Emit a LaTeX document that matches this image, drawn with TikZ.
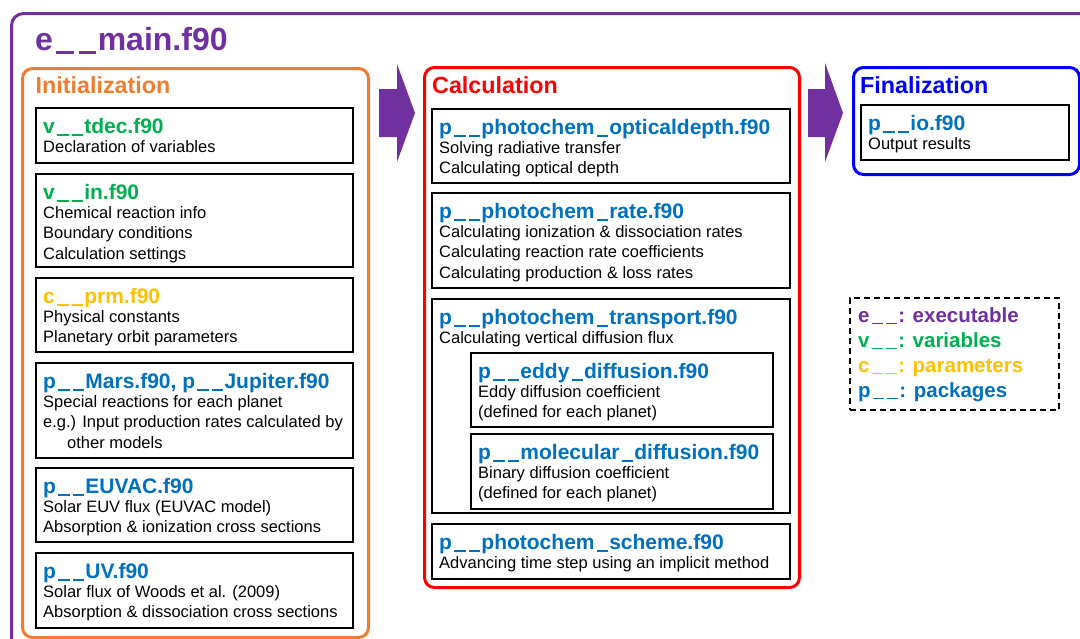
\documentclass[tikz,border=0pt]{standalone}
\usepackage{fontspec}
\setmainfont{Liberation Sans}
\usetikzlibrary{calc}
\definecolor{cpurple}{RGB}{112,48,160}
\definecolor{corange}{RGB}{237,125,49}
\definecolor{cgreen}{RGB}{0,176,80}
\definecolor{cyellow}{RGB}{255,192,0}
\definecolor{cblue}{RGB}{0,112,192}
\definecolor{cred}{RGB}{255,0,0}
\definecolor{cfin}{RGB}{0,0,255}
\newcommand\us{\kern0.1em\rule[-0.12em]{0.55em}{0.09em}\kern0.05em}
\tikzset{
 ibox/.style={draw=black, line width=1.5pt, inner sep=0pt, fill=white, anchor=north west},
 hdr/.style={font=\fontsize{21}{24}\selectfont\bfseries, inner sep=0pt, anchor=base west},
 body/.style={font=\fontsize{16.5}{20}\selectfont, inner sep=0pt, anchor=base west, text=black},
 group/.style={line width=3pt, rounded corners=10pt, inner sep=0pt, anchor=north west},
 gtitle/.style={font=\fontsize{23.3}{26}\selectfont\bfseries, inner sep=0pt, anchor=base west},
 legendtxt/.style={font=\fontsize{20.5}{24}\selectfont\bfseries, inner sep=0pt, anchor=base west},
 bigarrow/.style={fill=cpurple, draw=none},
}
\newcommand\modbox[8]{%
 \node[ibox, minimum width=#4pt, minimum height=#5pt] (#1) at (#2,#3) {};
 \node[hdr, text=#6] (#1-h) at ($(#1.north west)+(8,26)$) {#7};
 \foreach \ln [count=\i] in {#8} {
   \node[body] (#1-l\i) at ($(#1.north west)+(8,{45+20.5*(\i-1)})$) {\ln};
 }
}
\begin{document}
\begin{tikzpicture}[x=1pt,y=-1pt]
\useasboundingbox (0,0) rectangle (1080,638);
\clip (0,0) rectangle (1080,638);
% outer frame
\node[group, draw=cpurple, minimum width=1100pt, minimum height=680pt, rounded corners=12pt] (mainframe) at (10,12) {};
\node[font=\fontsize{32}{36}\selectfont\bfseries, inner sep=0pt, anchor=base west, text=cpurple] (maintitle) at (35,50) {e\us\us main.f90};
% groups
\node[group, draw=corange, minimum width=346pt, minimum height=569pt] (init) at (21,67) {};
\node[gtitle, text=corange] (init-t) at (35.5,93) {Initialization};
\node[group, draw=cred, minimum width=375pt, minimum height=520pt] (calc) at (423,66) {};
\node[gtitle, text=cred] (calc-t) at (432,93) {Calculation};
\node[group, draw=cfin, minimum width=226pt, minimum height=107pt] (fin) at (852,66) {};
\node[gtitle, text=cfin] (fin-t) at (860,93) {Finalization};
% arrows
\fill[bigarrow] (379,89) -- (397,89) -- (397,64) -- (415,113) -- (397,162) -- (397,137) -- (379,137) -- cycle;
\fill[bigarrow] (808,89) -- (825,89) -- (825,63) -- (843,113) -- (825,162) -- (825,137) -- (808,137) -- cycle;
% initialization modules
\modbox{tdec}{35}{107}{317}{55}{cgreen}{v\us\us tdec.f90}{Declaration of variables}
\modbox{vin}{35}{173}{317}{93}{cgreen}{v\us\us in.f90}{Chemical reaction info,Boundary conditions,Calculation settings}
\modbox{prm}{35}{277}{317}{74}{cyellow}{c\us\us prm.f90}{Physical constants,Planetary orbit parameters}
\modbox{mars}{35}{362}{317}{95}{cblue}{p\us\us Mars.f90{,} p\us\us Jupiter.f90}{Special reactions for each planet,e.g.) Input production rates calculated by,\hspace*{24pt}other models}
\modbox{euvac}{35}{467}{317}{74}{cblue}{p\us\us EUVAC.f90}{Solar EUV flux (EUVAC model),Absorption \& ionization cross sections}
\modbox{uv}{35}{552}{317}{75}{cblue}{p\us\us UV.f90}{Solar flux of Woods et al. (2009),Absorption \& dissociation cross sections}
% calculation modules
\modbox{optd}{431}{108}{358}{74}{cblue}{p\us\us photochem\us opticaldepth.f90}{Solving radiative transfer,Calculating optical depth}
\modbox{rate}{431}{192}{358}{95}{cblue}{p\us\us photochem\us rate.f90}{Calculating ionization \& dissociation rates,Calculating reaction rate coefficients,Calculating production \& loss rates}
\modbox{trans}{431}{298}{358}{214}{cblue}{p\us\us photochem\us transport.f90}{Calculating vertical diffusion flux}
\modbox{eddy}{470}{352}{302}{74}{cblue}{p\us\us eddy\us diffusion.f90}{Eddy diffusion coefficient,(defined for each planet)}
\modbox{mol}{470}{433}{302}{75}{cblue}{p\us\us molecular\us diffusion.f90}{Binary diffusion coefficient,(defined for each planet)}
\modbox{scheme}{431}{523}{358}{55}{cblue}{p\us\us photochem\us scheme.f90}{Advancing time step using an implicit method}
% finalization
\modbox{io}{860}{104}{208}{55}{cblue}{p\us\us io.f90}{Output results}
% legend
\node[draw=black, line width=1.5pt, dash pattern=on 6pt off 4pt, inner sep=0pt, anchor=north west, minimum width=209pt, minimum height=112pt] (legend) at (849,297) {};
\node[legendtxt, text=cpurple] (lg-e) at (858,322) {e\us\us: executable};
\node[legendtxt, text=cgreen] (lg-v) at (858,347) {v\us\us: variables};
\node[legendtxt, text=cyellow] (lg-c) at (858,372) {c\us\us: parameters};
\node[legendtxt, text=cblue] (lg-p) at (858,397) {p\us\us: packages};
\end{tikzpicture}
\end{document}
